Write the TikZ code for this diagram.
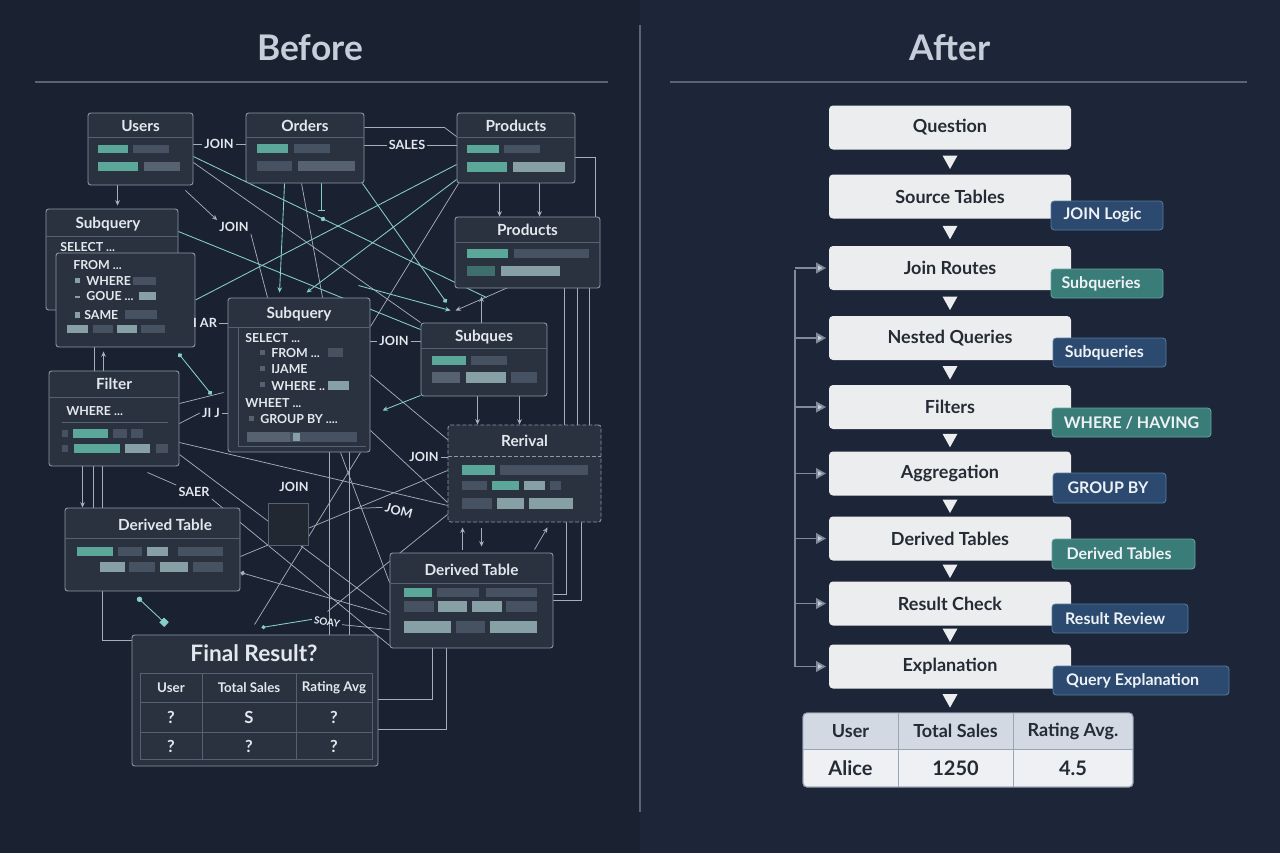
\documentclass[tikz,border=0pt]{standalone}
\usepackage{fontspec}
\setmainfont{Lato}
\usetikzlibrary{fit,arrows.meta,calc}
\definecolor{bgl}{HTML}{1A2130}
\definecolor{bgr}{HTML}{1D2638}
\definecolor{panelfill}{HTML}{29323E}
\definecolor{panelline}{HTML}{8C98A8}
\definecolor{hlinec}{HTML}{566272}
\definecolor{ptext}{HTML}{E3E8EE}
\definecolor{wirec}{HTML}{A4AFBC}
\definecolor{wireteal}{HTML}{86CFC4}
\definecolor{barteal}{HTML}{5BA89B}
\definecolor{bartealdk}{HTML}{3F6F6C}
\definecolor{bargrey}{HTML}{465262}
\definecolor{bargreym}{HTML}{56626F}
\definecolor{barlight}{HTML}{86A0A6}
\definecolor{titlec}{HTML}{C6CED9}
\definecolor{rulec}{HTML}{5A6473}
\definecolor{boxw}{HTML}{ECEDEF}
\definecolor{boxtext}{HTML}{252B35}
\definecolor{tagblue}{HTML}{2C4A6F}
\definecolor{tagblueline}{HTML}{587A9F}
\definecolor{tagteal}{HTML}{3A7C78}
\definecolor{tagtealline}{HTML}{65A5A0}
\definecolor{tagtext}{HTML}{EEF2F6}
\definecolor{fbgrey}{HTML}{7F8B9B}
\definecolor{tblhead}{HTML}{D3D9E2}
\definecolor{tblbody}{HTML}{EEF0F3}
\definecolor{tblline}{HTML}{9AA5B3}
\pgfdeclarelayer{back}
\pgfdeclarelayer{wires}
\pgfsetlayers{back,wires,main}
\newcommand\pbar[5]{\fill[#1] (#2,#3) rectangle (#4,#5);}
\tikzset{
  panel/.style={draw=panelline, fill=panelfill, line width=0.7pt, rounded corners=2pt, inner sep=0pt},
  hline/.style={draw=hlinec, line width=0.6pt},
  ptitle/.style={text=ptext, font=\bfseries\fontsize{11.5}{13}\selectfont, inner sep=0pt},
  codetxt/.style={text=ptext, font=\bfseries\fontsize{9.3}{11}\selectfont, anchor=west, inner sep=0pt},
  wlabel/.style={text=ptext, font=\bfseries\fontsize{9.5}{11}\selectfont, inner sep=1.5pt},
  wire/.style={draw=wirec, line width=0.55pt},
  twire/.style={draw=wireteal, line width=0.65pt},
  arw/.style={-{Stealth[length=4pt,width=3.5pt]}},
  dotend/.style={-{Circle[length=3.5pt]}},
  bigtitle/.style={text=titlec, font=\bfseries\fontsize{26.5}{30}\selectfont},
  flowbox/.style={fill=boxw, rounded corners=3pt, minimum width=181.5pt, minimum height=33pt, text=boxtext, font=\bfseries\fontsize{13.5}{15}\selectfont},
  tagb/.style={fill=tagblue, draw=tagblueline, line width=0.6pt, rounded corners=2.5pt, inner sep=0pt},
  tagt/.style={fill=tagteal, draw=tagtealline, line width=0.6pt, rounded corners=2.5pt, inner sep=0pt},
  tagtxt/.style={text=tagtext, font=\bfseries\fontsize{12}{14}\selectfont, anchor=west, inner sep=0pt},
  fb/.style={draw=fbgrey, line width=1.3pt},
  fbtip/.style={-{Triangle[open,length=7.5pt,width=8pt,fill=fbgrey!45]}},
  ftbltxt/.style={text=ptext, font=\bfseries\fontsize{10}{12}\selectfont},
  fq/.style={text=ptext, font=\bfseries\fontsize{12.5}{14}\selectfont},
  rtblh/.style={text=boxtext, font=\bfseries\fontsize{13.5}{15}\selectfont},
  rtblb/.style={text=boxtext, font=\bfseries\fontsize{15}{17}\selectfont},
}
\newcommand\flowtri[1]{\fill[boxw] ([shift={(-7.5,-6.5)}]#1) -- ([shift={(7.5,-6.5)}]#1) -- ([shift={(0,7)}]#1) -- cycle;}
\begin{document}
\begin{tikzpicture}[x=0.75pt,y=-0.75pt]
\useasboundingbox (0,0) rectangle (1280,853);
\begin{pgfonlayer}{back}
\fill[bgl] (0,0) rectangle (640,853);
\fill[bgr] (640,0) rectangle (1280,853);
\end{pgfonlayer}

% ---------- titles ----------
\node[bigtitle] (before) at (310,48) {Before};
\node[bigtitle] (after) at (950,48) {After};
\draw[rulec, line width=1pt] (35,82) -- (608,82);
\draw[rulec, line width=1pt] (670,82) -- (1247,82);
\draw[rulec, line width=1.2pt] (640,25) -- (640,812);

% ---------- BEFORE panels ----------
% Users
\node[panel, fit={(88,113)(193,185)}] (users) {};
\draw[hline] (88,137) -- (193,137);
\node[ptitle] at (140.5,126) {Users};
\pbar{barteal}{98}{145}{128}{153}\pbar{bargrey}{133}{145}{169}{153}
\pbar{barteal}{98}{162}{138}{171}\pbar{bargreym}{144}{162}{180}{171}
% Orders
\node[panel, fit={(246,113)(364,183)}] (orders) {};
\draw[hline] (246,137) -- (364,137);
\node[ptitle] at (305,126) {Orders};
\pbar{barteal}{257}{144}{288}{153}\pbar{bargrey}{294}{144}{330}{153}
\pbar{bargrey}{257}{161}{292}{171}\pbar{bargreym}{298}{161}{355}{171}
% Products top
\node[panel, fit={(457,113)(575,183)}] (prodA) {};
\draw[hline] (457,137) -- (575,137);
\node[ptitle] at (516,126) {Products};
\pbar{barteal}{467}{145}{499}{153}\pbar{bargrey}{504}{145}{540}{153}
\pbar{barteal}{467}{162}{507}{172}\pbar{barlight}{513}{162}{565}{172}
% Products second
\node[panel, fit={(455,217)(600,288)}] (prodB) {};
\draw[hline] (455,242) -- (600,242);
\node[ptitle] at (527.5,230) {Products};
\pbar{barteal}{467}{249}{508}{258}\pbar{bargrey}{514}{249}{589}{258}
\pbar{bartealdk}{467}{266}{495}{276}\pbar{barlight}{501}{266}{560}{276}
% Subquery stacked (left)
\node[panel, fit={(46,209)(178,310)}] (subqback) {};
\draw[hline] (46,236) -- (178,236);
\node[ptitle] at (108,224) {Subquery};
\node[codetxt] at (60,247) {SELECT ...};
\node[panel, fit={(56,253)(195,347)}] (subqfront) {};
\node[codetxt] at (73,265) {FROM ...};
\pbar{barlight}{75}{278}{80}{283}\node[codetxt] at (86,281) {WHERE};\pbar{bargrey}{133}{277}{156}{285}
\pbar{barlight}{75}{296}{80}{297.5}\node[codetxt] at (86,296) {GOUE ...};\pbar{barlight}{139}{292}{156}{300}
\pbar{barlight}{75}{312}{80}{318}\node[codetxt] at (84,315) {SAME};\pbar{bargrey}{125}{310}{157}{319}
\pbar{barlight}{67}{325}{88}{333}\pbar{bargrey}{93}{325}{113}{333}\pbar{barlight}{117}{325}{137}{333}\pbar{bargrey}{141}{325}{165}{333}
% Subquery center
\node[panel, fit={(228,298)(370,452)}] (subqc) {};
\draw[hline] (228,327) -- (370,327);
\draw[hline, line width=0.4pt] (238,327) -- (238,446) -- (366,446);
\node[ptitle] at (299,314) {Subquery};
\node[codetxt] at (245,338) {SELECT ...};
\pbar{bargreym}{260}{350}{265}{355}\node[codetxt] at (271,353) {FROM ...};\pbar{bargrey}{328}{348}{343}{357}
\pbar{bargreym}{260}{366}{265}{371}\node[codetxt] at (271,369) {IJAME};
\pbar{bargreym}{260}{382}{265}{387}\node[codetxt] at (271,386) {WHERE ..};\pbar{barlight}{328}{381}{349}{390}
\node[codetxt] at (245,403) {WHEET ...};
\pbar{bargreym}{249}{416}{254}{421}\node[codetxt] at (260,419) {GROUP BY ....};
\pbar{bargrey}{247}{432}{357}{442}\pbar{bargreym}{247}{432}{290}{442}\pbar{barlight}{293}{433}{300}{441}
% Subques
\node[panel, fit={(421,323)(547,396)}] (subques) {};
\draw[hline] (421,348) -- (547,348);
\node[ptitle] at (484,337) {Subques};
\pbar{barteal}{432}{356}{466}{365}\pbar{bargrey}{471}{356}{507}{365}
\pbar{bargreym}{432}{372}{460}{383}\pbar{barlight}{466}{372}{506}{383}\pbar{bargrey}{511}{372}{537}{383}
% Filter
\node[panel, fit={(49,371)(179,466)}] (filter) {};
\draw[hline] (49,397) -- (179,397);
\node[ptitle] at (114,384) {Filter};
\node[codetxt] at (66,411) {WHERE ...};
\draw[hline] (62,422) -- (168,422);
\pbar{bargrey}{62}{430}{68}{437}\pbar{barteal}{73}{429}{108}{438}\pbar{bargrey}{113}{429}{127}{438}\pbar{bargrey}{131}{429}{143}{438}
\pbar{bargrey}{62}{445}{68}{452}\pbar{barteal}{74}{444}{120}{453}\pbar{barlight}{125}{444}{150}{453}\pbar{bargrey}{156}{444}{168}{453}
% Rerival (dashed)
\node[panel, dash pattern=on 3pt off 1.5pt, fit={(448,425)(601,522)}] (rerival) {};
\draw[hline, draw=panelline, dash pattern=on 3pt off 1.5pt] (448,456) -- (601,456);
\node[ptitle] at (524.5,441) {Rerival};
\pbar{barteal}{462}{465}{495}{475}\pbar{bargrey}{500}{465}{588}{475}
\pbar{bargrey}{462}{481}{487}{490}\pbar{barteal}{492}{481}{519}{490}\pbar{barlight}{524}{481}{545}{490}\pbar{bargrey}{550}{481}{561}{490}
\pbar{bargrey}{462}{498}{492}{509}\pbar{barlight}{497}{498}{524}{509}\pbar{barlight}{529}{498}{573}{509}
% Derived Table left
\node[panel, fit={(65,508)(240,591)}] (dtl) {};
\draw[hline] (65,538) -- (240,538);
\node[ptitle] at (165,525) {Derived Table};
\pbar{barteal}{77}{547}{113}{556}\pbar{bargrey}{118}{547}{142}{556}\pbar{barlight}{147}{547}{168}{556}\pbar{bargrey}{178}{547}{223}{556}
\pbar{barlight}{100}{562}{125}{572}\pbar{bargrey}{129}{562}{155}{572}\pbar{barlight}{160}{562}{188}{572}\pbar{bargrey}{193}{562}{223}{572}
% Derived Table right
\node[panel, fit={(390,553)(553,648)}] (dtr) {};
\draw[hline] (390,583) -- (553,583);
\node[ptitle] at (471.5,570) {Derived Table};
\pbar{barteal}{404}{588}{432}{597}\pbar{bargrey}{437}{588}{479}{597}\pbar{bargrey}{486}{588}{537}{597}
\pbar{bargrey}{404}{601}{434}{612}\pbar{barlight}{438}{601}{467}{612}\pbar{barlight}{472}{601}{502}{612}\pbar{bargrey}{506}{601}{537}{612}
\pbar{barlight}{404}{621}{451}{633}\pbar{bargrey}{456}{621}{485}{633}\pbar{barlight}{490}{621}{537}{633}
% Final Result
\node[panel, fit={(132,635)(378,766)}] (final) {};
\node[fq, font=\bfseries\fontsize{17}{19}\selectfont] at (254,653) {Final Result?};
\node[fit={(140,673)(372,759)}, inner sep=0pt, draw=hlinec, line width=0.6pt] (ftbl) {};
\draw[hline] (140,702) -- (372,702);
\draw[hline] (140,732) -- (372,732);
\draw[hline] (202,673) -- (202,759);
\draw[hline] (296,673) -- (296,759);
\node[ftbltxt] at (171,688) {User};
\node[ftbltxt] at (249,688) {Total Sales};
\node[ftbltxt] at (334,688) {Rating Avg};
\node[fq] at (171,717) {?};\node[fq] at (249,717) {S};\node[fq] at (334,717) {?};
\node[fq] at (171,746) {?};\node[fq] at (249,746) {?};\node[fq] at (334,746) {?};

% faint box
\draw[draw=hlinec, fill=panelfill!80!black, line width=0.5pt] (268,503) rectangle (308,545);

% wire labels
\node[wlabel] (joinA) at (219,144) {JOIN};
\node[wlabel] (salesA) at (407,145) {SALES};
\node[wlabel] (joinB) at (234,227) {JOIN};
\node[wlabel] (joinC) at (394,341) {JOIN};
\node[wlabel] (joinD) at (424,457) {JOIN};
\node[wlabel] (joinE) at (294,487) {JOIN};
\node[wlabel] (saer) at (194,492) {SAER};
\node[wlabel, rotate=-15, inner sep=0pt] (jom) at (399,511) {JOM};
\node[wlabel, rotate=-10, font=\bfseries\fontsize{7.5}{9}\selectfont] (soay) at (327,622) {SOAY};
\node[wlabel] (iar) at (205,323) {I AR};
\node[wlabel] (jij) at (211,413) {JI J};

% ---------- BEFORE wires ----------
\begin{pgfonlayer}{wires}
\draw[wire] (joinA.west -| users.east) -- (joinA.west);
\draw[wire] (joinA.east) -- (joinA.east -| orders.west);
\draw[wire] (salesA.west -| orders.east) -- (salesA.west);
\draw[wire] (salesA.east) -- (salesA.east -| prodA.west);
\draw[wire] ([shift={(0,15)}]orders.north east) -- ([shift={(-12,15)}]prodA.north west) -- ([shift={(0,24)}]prodA.north west);
\draw[wire,arw] ([shift={(30,0)}]users.south west) -- ([shift={(72,-3)}]subqback.north west);
\draw[twire] ([shift={(0,44)}]users.north east) -- ([shift={(66,-25)}]subques.north west);
\fill[wireteal] (323,219) circle (2.2);
\draw[wire] ([shift={(0,50)}]users.north east) -- (subques.north west);
\draw[wire,arw] ([shift={(-8,5)}]users.south east) -- (joinB.north west);
\draw[wire] (joinB.south east) -- ([shift={(40,0)}]subqc.north west);
\draw[twire,arw] ([shift={(39,0)}]orders.south west) -- ([shift={(52,-5)}]subqc.north west);
\draw[wire] ([shift={(56,0)}]orders.south west) -- ([shift={(95,0)}]subqc.north west);
\draw[twire,-{Bar[width=5pt]}] ([shift={(76,0)}]orders.south west) -- ([shift={(76,27)}]orders.south west);
\draw[twire,dotend] ([shift={(-2,0)}]orders.south east) -- ([shift={(26,-20)}]subques.north west);
\draw[twire] ([shift={(0,52)}]prodA.north west) -- (subqfront.east);
\draw[twire,arw] ([shift={(0,67)}]prodA.north west) -- ([shift={(79,-5)}]subqc.north west);
\draw[wire] ([shift={(2,0)}]prodA.south west) -- ([shift={(0,29)}]subqc.north east);
\draw[wire] ([shift={(0,45)}]prodA.north east) -| ([shift={(-5,0)}]prodB.north east);
\draw[wire,arw] ([shift={(43,0)}]prodA.south west) -- ([shift={(45,0)}]prodB.north west);
\draw[wire,arw] ([shift={(83,0)}]prodA.south west) -- ([shift={(85,0)}]prodB.north west);
\draw[wire] ([shift={(110,0)}]prodB.south west) -- ([shift={(117,0)}]rerival.north west);
\draw[wire] ([shift={(123,0)}]prodB.south west) -- ([shift={(130,0)}]rerival.north west);
\draw[wire] ([shift={(135,0)}]prodB.south west) -- ([shift={(142,0)}]rerival.north west);
\draw[wire,arw] ([shift={(57,0)}]subques.south west) -- ([shift={(30,0)}]rerival.north west);
\draw[wire,arw] ([shift={(99,0)}]subques.south west) -- ([shift={(72,0)}]rerival.north west);
\draw[wire,arw] ([shift={(61,0)}]subques.north west) -- ([shift={(27,8)}]prodB.south west);
\draw[wire,arw] ([shift={(65,-6)}]prodB.south west) -- ([shift={(35,-12)}]subques.north west);
\draw[twire,arw] ([shift={(-62,-37)}]subques.north west) -- ([shift={(30,-12)}]subques.north west);
\draw[wire] (subqc.east) -- ([shift={(0,15)}]rerival.north west);
\draw[wire] ([shift={(0,-22)}]subqc.south east) -- ([shift={(0,-20)}]rerival.south west);
\draw[wire] (joinD.east) -- (joinD.east -| rerival.west);
\draw[wire] (joinC.west -| subqc.east) -- (joinC.west);
\draw[wire] (joinC.east) -- (joinC.east -| subques.west);
\draw[wire,arw] ([shift={(73,-3)}]dtr.north west) -- ([shift={(15,5)}]rerival.south west);
\draw[wire,arw] ([shift={(34,6)}]rerival.south west) -- ([shift={(92,-6)}]dtr.north west);
\draw[wire,arw] ([shift={(145,-3)}]dtr.north west) -- ([shift={(100,5)}]rerival.south west);
\draw[wire] ([shift={(119,0)}]rerival.south west) |- ([shift={(0,42)}]dtr.north east);
\draw[wire] ([shift={(134,0)}]rerival.south west) |- ([shift={(0,48)}]dtr.north east);
\draw[wire] ([shift={(43,0)}]dtr.south west) |- ([shift={(0,65)}]final.north east);
\draw[wire] ([shift={(57,0)}]dtr.south west) |- ([shift={(0,95)}]final.north east);
\draw[twire,{Circle[length=4pt]}-{Square[length=5pt,width=5pt]}] ([shift={(73,6)}]dtl.south west) -- ([shift={(35,-10)}]final.north west);
\draw[wire] ([shift={(38,0)}]dtl.south west) |- ([shift={(0,6)}]final.north west);
\draw[wire,{Circle[length=3.5pt]}-] ([shift={(0,-19)}]dtl.south east) -- ([shift={(-3,62)}]dtr.north west);
\draw[twire,{Circle[length=3pt]}-] ([shift={(130,-7)}]final.north west) -- (soay.west);
\draw[wire] (soay.east) -- ([shift={(0,77)}]dtr.north west);
\draw[wire,arw] ([shift={(34,0)}]filter.south west) -- ([shift={(18,0)}]dtl.north west);
\draw[wire] ([shift={(45,0)}]filter.south west) -- ([shift={(29,0)}]dtl.north west);
\draw[wire] ([shift={(54,0)}]filter.south west) -- ([shift={(38,0)}]dtl.north west);
\draw[wire] ([shift={(39,0)}]subqfront.south west) -- ([shift={(46,0)}]filter.north west);
\draw[wire,arw] ([shift={(55,0)}]filter.north west) -- ([shift={(48,4)}]subqfront.south west);
\draw[twire,{Circle[length=3.5pt]}-{Circle[length=3.5pt]}] ([shift={(-17,6)}]subqfront.south east) -- ([shift={(-16,97)}]subqc.north west);
\draw[wire] (iar.east) -- (iar.east -| subqc.west);
\draw[wire] ([shift={(0,-15)}]filter.east) -- ([shift={(-4,95)}]subqc.north west);
\draw[wire] ([shift={(0,5)}]filter.east) -- (jij.west);
\draw[wire] (jij.east) -- (jij.east -| subqc.west);
\draw[wire] ([shift={(0,24)}]filter.east) -- ([shift={(0,-17)}]rerival.south west);
\draw[wire] ([shift={(0,36)}]filter.east) -- ([shift={(0,12)}]dtr.west);
\draw[wire] ([shift={(123,-10)}]final.north west) -- ([shift={(-10,0)}]subqc.south east);
\draw[wire] ([shift={(196,-23)}]final.north west) -- ([shift={(0,-8)}]rerival.south west);
\draw[wire] ([shift={(102,0)}]subqc.south west) -- ([shift={(198,0)}]final.north west);
\draw[wire] ([shift={(122,0)}]subqc.south west) -- ([shift={(218,0)}]final.north west);
\draw[wire] ([shift={(-32,6)}]filter.south east) -- (saer.north west);
\draw[wire] (saer.south east) -- ([shift={(0,-3)}]dtr.south west);
\draw[wire] ([shift={(-15,56)}]subqc.south east) -- ([xshift=-2pt]jom.west);
\draw[twire] ([shift={(0,23)}]subqback.north east) -- ([shift={(0,7)}]subques.north west);
\draw[twire,arw] ([shift={(0,-1)}]subques.south west) -- ([shift={(-38,14)}]subques.south west);
\draw[wire] ([shift={(0,-35)}]dtl.south east) -- ([shift={(0,-52)}]rerival.south west);
\draw[wire] ([shift={(-30,0)}]subqc.south east) -- ([shift={(0,30)}]dtr.north west);
\end{pgfonlayer}

% ---------- AFTER ----------
\node[flowbox] (q)   at (950,127.5) {Question};
\node[flowbox] (src) at (950,196.5) {Source Tables};
\node[flowbox] (jr)  at (950,268)   {Join Routes};
\node[flowbox] (nq)  at (950,338)   {Nested Queries};
\node[flowbox] (fl)  at (950,407)   {Filters};
\node[flowbox] (ag)  at (950,473.5) {Aggregation};
\node[flowbox] (dt)  at (950,538.5) {Derived Tables};
\node[flowbox] (rc)  at (950,603.5) {Result Check};
\node[flowbox] (ex)  at (950,666.5) {Explanation};

% result table
\node[fit={(803,713)(1133,787)}, inner sep=0pt, draw=tblline, fill=tblbody, line width=0.7pt, rounded corners=3pt] (restbl) {};
\begin{scope}
\clip[rounded corners=3pt] (803,713) rectangle (1133,787);
\fill[tblhead] (803,713) rectangle (1133,749);
\end{scope}
\draw[tblline, line width=0.7pt, rounded corners=3pt] (803,713) rectangle (1133,787);
\draw[tblline, line width=0.7pt] (803,749) -- (1133,749);
\draw[tblline, line width=0.7pt] (898,713) -- (898,787);
\draw[tblline, line width=0.7pt] (1013,713) -- (1013,787);
\node[rtblh] at (850.5,731) {User};
\node[rtblh] at (955.5,731) {Total Sales};
\node[rtblh] at (1073,731) {Rating Avg.};
\node[rtblb] at (850.5,768) {Alice};
\node[rtblb] at (955.5,768) {1250};
\node[rtblb] at (1073,768) {4.5};

% flow triangles
\foreach \a/\b/\n in {q/src/m1,src/jr/m2,jr/nq/m3,nq/fl/m4,fl/ag/m5,ag/dt/m6,dt/rc/m7,rc/ex/m8}{
  \path (\a.south) -- (\b.north) coordinate[pos=0.5] (\n);
  \flowtri{\n}
}
\path (ex.south) -- (ex.south |- restbl.north) coordinate[pos=0.5] (m9);
\flowtri{m9}

% tags
\node[tagb, fit={(1051,201)(1163,230)}] (t1) {};
\node[tagtxt] at ([xshift=9.5pt]t1.west) {JOIN Logic};
\node[tagt, fit={(1051,269)(1163,298)}] (t2) {};
\node[tagtxt] at ([xshift=8pt]t2.west) {Subqueries};
\node[tagb, fit={(1053,338)(1166,367)}] (t3) {};
\node[tagtxt] at ([xshift=9pt]t3.west) {Subqueries};
\node[tagt, fit={(1052,408)(1211,437)}] (t4) {};
\node[tagtxt] at ([xshift=9pt]t4.west) {WHERE / HAVING};
\node[tagb, fit={(1053,473)(1166,503)}] (t5) {};
\node[tagtxt] at ([xshift=11pt]t5.west) {GROUP BY};
\node[tagt, fit={(1052,539)(1195,569)}] (t6) {};
\node[tagtxt] at ([xshift=11pt]t6.west) {Derived Tables};
\node[tagb, fit={(1052,604)(1188,633)}] (t7) {};
\node[tagtxt] at ([xshift=10pt]t7.west) {Result Review};
\node[tagb, fit={(1053,666)(1229,695)}] (t8) {};
\node[tagtxt] at ([xshift=10pt]t8.west) {Query Explanation};

% feedback line
\coordinate (fbtop) at (795,270);
\coordinate (fbbot) at (795,667);
\draw[fb] (fbtop) -- (fbbot);
\foreach \b in {jr,nq,fl,ag,dt,rc,ex}{
  \draw[fb,fbtip] (fbtop |- \b.west) -- ([xshift=-2pt]\b.west);
}
\end{tikzpicture}
\end{document}
